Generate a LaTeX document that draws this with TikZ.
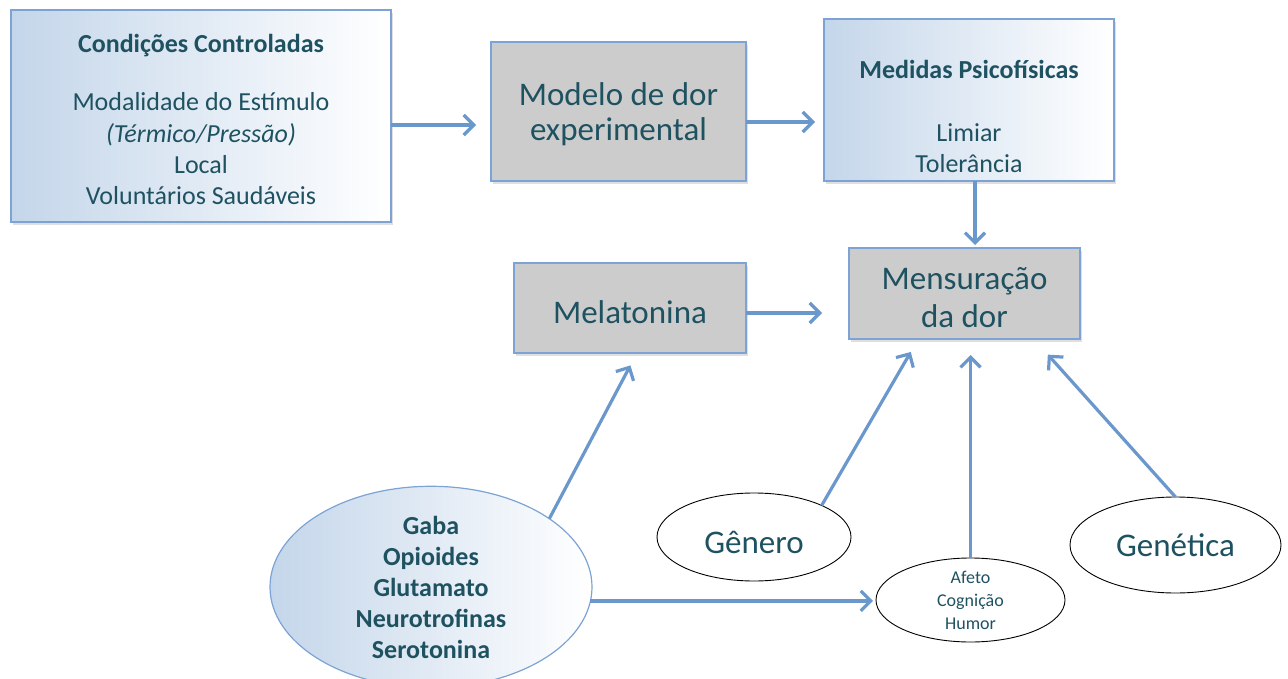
\documentclass[tikz,border=0pt]{standalone}
\usepackage{fontspec}
\setmainfont{Carlito}
\usetikzlibrary{arrows.meta,shapes.geometric,shadows,calc}
\definecolor{txtc}{RGB}{31,82,97}
\definecolor{bordc}{RGB}{124,163,212}
\definecolor{arrc}{RGB}{106,152,205}
\definecolor{gradl}{RGB}{196,214,234}
\definecolor{grayf}{RGB}{204,204,204}
\begin{document}
\begin{tikzpicture}[x=1pt,y=-1pt,
  box/.style={draw=bordc, line width=1.2pt, inner sep=0pt, outer sep=0pt,
    drop shadow={shadow xshift=2pt,shadow yshift=-3pt,opacity=0.25}},
  gbox/.style={box, fill=grayf},
  sbox/.style={box, left color=gradl, right color=white},
  wov/.style={ellipse, draw=black, line width=0.9pt, fill=white, inner sep=0pt, outer sep=0pt},
  txt/.style={text=txtc, align=center, inner sep=0pt},
  arr/.style={draw=arrc, line width=3.2pt, -{Straight Barb[length=10pt,width=20pt]}},
  big/.style={font=\fontsize{33}{37}\selectfont},
  mid/.style={font=\fontsize{26}{31.2}\selectfont},
]
\useasboundingbox (0,0) rectangle (1288,679);

% boxes
\node[sbox, minimum width=380pt, minimum height=212pt] (box1) at (201,116) {};
\node[txt, mid] (box1t) at ($(box1)+(0,3.5)$)
  {{\bfseries Condições Controladas}\\[27pt]Modalidade do Estímulo\\\itshape(Térmico/Pressão)\\Local\\Voluntários Saudáveis};
\node[gbox, minimum width=255pt, minimum height=139pt] (box2) at (618.5,111.5) {};
\node[txt, font=\fontsize{33}{35}\selectfont] (box2t) at ($(box2)+(0,3)$) {Modelo de dor\\experimental};
\node[sbox, minimum width=290pt, minimum height=162pt] (box3) at (969,100) {};
\node[txt, mid] (box3t) at ($(box3)+(0,16.5)$)
  {{\bfseries Medidas Psicofísicas}\\[31pt]Limiar\\Tolerância};
\node[gbox, minimum width=231pt, minimum height=91pt] (mens) at (964.5,293.5) {};
\node[txt, font=\fontsize{33}{38}\selectfont] (menst) at ($(mens)+(0,4)$) {Mensuração\\da dor};
\node[gbox, minimum width=232pt, minimum height=90pt] (mel) at (630,308) {};
\node[txt, big] (melt) at ($(mel)+(0,4)$) {Melatonina};

% ellipses
\node[ellipse, draw=bordc, line width=1.2pt, left color=gradl, right color=white, text=txtc, align=center,
  inner sep=0pt, outer sep=0pt, minimum width=322pt, minimum height=184pt,
  font=\fontsize{26}{31}\selectfont\bfseries] (gaba) at (431,587)
  {Gaba\\Opioides\\Glutamato\\Neurotrofinas\\Serotonina};
\node[wov, minimum width=194pt, minimum height=88pt] (gen) at (754,537) {};
\node[txt, big] (gent) at ($(gen)+(0,5)$) {Gênero};
\node[wov, text=txtc, align=center, font=\fontsize{18}{23}\selectfont, minimum width=189pt, minimum height=84pt] (afe) at (970.5,600)
  {Afeto\\Cognição\\Humor};
\node[wov, text=txtc, big, minimum width=211pt, minimum height=96pt] (genet) at (1175.5,545) {Genética};

% connectors
\draw[arr, shorten >=15pt] ([yshift=-9pt]box1.east) -- ([yshift=-9pt]box1.east -| box2.west);
\draw[arr, shorten >=9pt] ([yshift=-10.5pt]box2.east) -- ([yshift=-10.5pt]box2.east -| box3.west);
\draw[arr, shorten >=3pt] ([xshift=6pt]box3.south) -- ([xshift=6pt]box3.south |- mens.north);
\draw[arr, shorten >=27pt] ([yshift=-5pt]mel.east) -- ([yshift=-5pt]mel.east -| mens.west);
\draw[arr, shorten >=14pt] (gaba.30.7) -- ($(mel.south west)!0.53!(mel.south east)$);
\draw[arr, shorten >=3pt] (gaba.-5.8) -- (gaba.-5.8 -| afe.west);
\draw[arr, shorten >=15pt] (gen.25.2) -- ($(mens.south west)!0.30!(mens.south east)$);
\draw[arr, shorten >=16pt] (afe.north) -- (afe.north |- mens.south);
\draw[arr, shorten >=21pt] (genet.north) -- ($(mens.south west)!0.80!(mens.south east)$);
\end{tikzpicture}
\end{document}
